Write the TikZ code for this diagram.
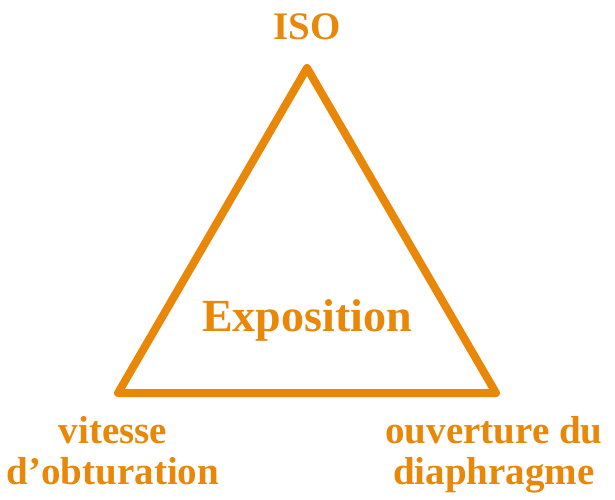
\documentclass[tikz,border=0pt]{standalone}
\usepackage{fontspec}
\setmainfont{Liberation Serif}
\definecolor{expo}{RGB}{232,135,8}
\begin{document}
\begin{tikzpicture}[x=1pt,y=-1pt,
  lbl/.style={text=expo,font=\bfseries\fontsize{39}{42}\selectfont,align=center,inner sep=0pt,anchor=base},
  edge/.style={draw=expo,line width=8pt,line join=round}]
\useasboundingbox (0,0) rectangle (615,500);
\coordinate (top) at (307,68);
\coordinate (bl) at (118,393);
\coordinate (br) at (496,393);
\draw[edge] (top) -- (bl) -- (br) -- cycle;
\node[lbl] (iso) at (307,40) {ISO};
\node[lbl,font=\bfseries\fontsize{46}{50}\selectfont] (expo) at (307,331) {Exposition};
\node[lbl] (v1) at (113,443) {vitesse};
\node[lbl] (v2) at (113,484) {d’obturation};
\node[lbl] (o1) at (494,443) {ouverture du};
\node[lbl] (o2) at (494,484) {diaphragme};
\end{tikzpicture}
\end{document}
